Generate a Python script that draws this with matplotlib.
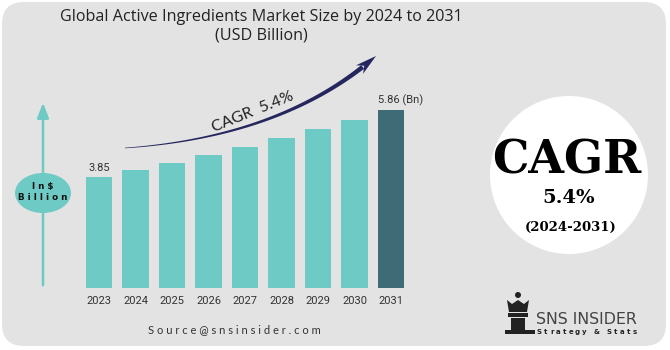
import numpy as np
import matplotlib
matplotlib.use("Agg")
import matplotlib.pyplot as plt
from matplotlib.patches import FancyBboxPatch, Ellipse, Circle, Polygon, Rectangle

# data
years = ["2023", "2024", "2025", "2026", "2027", "2028", "2029", "2030", "2031"]
market_size = [3.85, 4.07, 4.28, 4.51, 4.75, 5.01, 5.27, 5.55, 5.86]
first_label = "3.85"
last_label = "5.86 (Bn)"
cagr = "5.4%"
period = "(2024-2031)"

teal = "#6ecac5"
dark_teal = "#3e6b75"
navy = "#26265f"
txt = "#222222"

W, H = 670, 350
fig = plt.figure(figsize=(W / 100, H / 100), dpi=100)
fig.patch.set_facecolor("white")

# background layer in pixel coordinates (y down)
bg = fig.add_axes([0, 0, 1, 1])
bg.set_xlim(0, W)
bg.set_ylim(H, 0)
bg.axis("off")
bg.add_patch(FancyBboxPatch((2, 2), 664, 344, boxstyle="round,pad=0,rounding_size=22",
                            fc="#e3e3e3", ec="none"))

bg.text(261, 17, "Global Active Ingredients Market Size by 2024 to 2031", ha="center",
        va="center", fontsize=11.6, family="Open Sans", color=txt)
bg.text(261, 36, "(USD Billion)", ha="center", va="center", fontsize=11.6,
        family="Open Sans", color=txt)

# left "In$ Billion" axis marker
bg.annotate("", xy=(43, 100), xytext=(43, 288),
            arrowprops=dict(arrowstyle="-|>,head_length=0.9,head_width=0.35", color=teal, lw=1.8))
bg.add_patch(Ellipse((43, 193), 56, 40, fc=teal, ec="none"))
bg.text(43, 187, "I n $", ha="center", va="center", fontsize=6.3, weight="bold", color="#111")
bg.text(43, 198, "B i l l i o n", ha="center", va="center", fontsize=6.3, weight="bold", color="#111")

# growth arrow (quadratic bezier, tapered)
p0, p1, p2 = np.array([125, 148]), np.array([283, 137]), np.array([376, 56])
def bez(t):
    return ((1 - t) ** 2)[:, None] * p0 + (2 * (1 - t) * t)[:, None] * p1 + (t ** 2)[:, None] * p2
t_end = 0.93
t = np.linspace(0, t_end, 80)
pts = bez(t)
d = np.gradient(pts, axis=0)
n = np.column_stack([-d[:, 1], d[:, 0]])
n /= np.linalg.norm(n, axis=1)[:, None]
hw = 0.3 + 2.0 * t / t_end
poly = np.vstack([pts + n * hw[:, None], (pts - n * hw[:, None])[::-1]])
bg.add_patch(Polygon(poly, closed=True, fc=navy, ec="none"))
base = pts[-1]
tip = p2
u = (tip - base) / np.linalg.norm(tip - base)
nv = np.array([-u[1], u[0]])
head = [tip, base + nv * 5.5 - u * 4, base + u * 2, base - nv * 5.5 - u * 4]
bg.add_patch(Polygon(head, closed=True, fc=navy, ec="none"))
bg.text(253, 112, "CAGR  " + cagr, ha="center", va="center", rotation=22,
        fontsize=11.5, family="Lato", color=txt)

# right CAGR badge
bg.add_patch(Circle((569, 175), 79, fc="white", ec="none"))
bg.text(567, 160, "CAGR", ha="center", va="center", fontsize=33, family="DejaVu Serif",
        weight="bold", color="black")
bg.text(569, 198, cagr, ha="center", va="center", fontsize=14, family="DejaVu Serif",
        weight="bold", color="black")
bg.text(571, 227, period, ha="center", va="center", fontsize=9.5, family="DejaVu Serif",
        weight="bold", color="black")

# source and logo
bg.text(234, 330, " ".join("Source@snsinsider.com"), ha="center", va="center",
        fontsize=8, family="Lato", color="#333")
logo = "#222222"
bg.add_patch(Circle((518, 295), 3, fc=logo, ec="none"))
bg.add_patch(Polygon([(507, 300), (512, 304), (518, 300), (524, 304), (529, 300),
                      (527, 312), (509, 312)], closed=True, fc=logo, ec="none"))
bg.add_patch(Rectangle((508, 313), 20, 4, fc=logo, ec="none"))
bg.add_patch(Rectangle((511, 318), 14, 12, fc=logo, ec="none"))
bg.add_patch(Rectangle((505, 330), 30, 4, fc=logo, ec="none"))
bg.text(536, 320, "SNS INSIDER", ha="left", va="center", fontsize=11.4, family="DejaVu Sans",
        color="#444")
for i, ch in enumerate("Strategy & Stats"):
    bg.text(539 + i * 6.4, 332, ch, ha="center", va="center", fontsize=5,
            weight="bold", family="DejaVu Sans", color="#222")

# bar chart
ax = fig.add_axes([80.75 / W, 62 / H, 328.5 / W, 199.7 / H])
ax.patch.set_alpha(0)
x = np.arange(len(years))
colors = [teal] * (len(years) - 1) + [dark_teal]
ax.bar(x, market_size, width=0.73, color=colors)
ax.set_xlim(-0.5, len(years) - 0.5)
ax.set_ylim(0.535, 6.5)
for s in ax.spines.values():
    s.set_visible(False)
ax.set_yticks([])
ax.set_xticks(x)
ax.set_xticklabels(years, fontsize=8, family="Roboto", color="#333")
ax.tick_params(axis="x", length=0, pad=6)
ax.annotate(first_label, (x[0], market_size[0]), xytext=(0, 3), textcoords="offset points",
            ha="center", va="bottom", fontsize=8, family="Roboto", color="#333")
ax.annotate(last_label, (x[-1], market_size[-1]), xytext=(7, 3), textcoords="offset points",
            ha="center", va="bottom", fontsize=8, family="Roboto", color="#333")

fig.savefig("out.png", dpi=100)
